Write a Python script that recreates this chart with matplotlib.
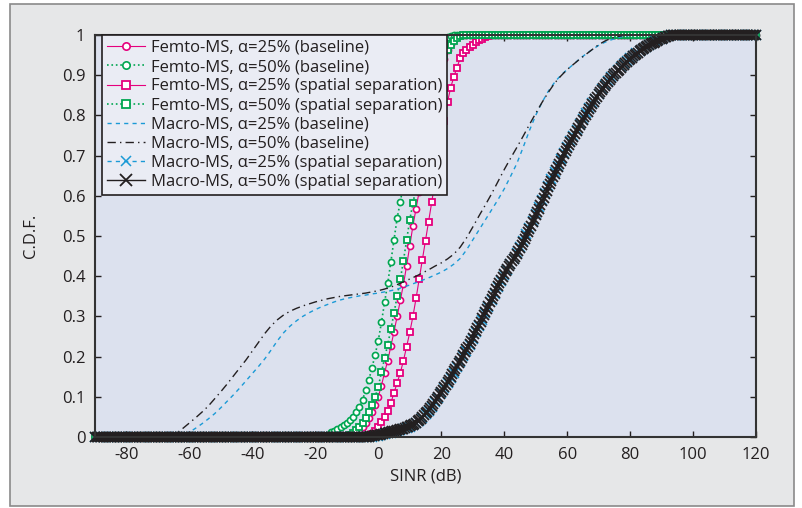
import numpy as np
import matplotlib
matplotlib.use('Agg')
import matplotlib.pyplot as plt
from matplotlib.patches import Rectangle

plt.rcParams['font.family'] = ['Open Sans', 'DejaVu Sans']
plt.rcParams['axes.unicode_minus'] = False

# SINR grids of the plotted samples (dB)
sinr = np.arange(-90, 121, 1)
sinr_fine = np.arange(-90, 120.5, 0.5)
sinr_coarse = np.arange(-90, 121, 2)

# Femto-MS, alpha=25% (baseline): values from -9 dB on
f25_base_start = -9
f25_base = [0.002, 0.006, 0.011, 0.017, 0.025, 0.035, 0.047, 0.062, 0.08, 0.1,
            0.128, 0.16, 0.19, 0.226, 0.262, 0.3, 0.34, 0.38, 0.426, 0.475,
            0.525, 0.568, 0.61, 0.655, 0.7, 0.745, 0.79, 0.835, 0.875, 0.91,
            0.94, 0.962, 0.978, 0.99, 0.996]

# Femto-MS, alpha=50% (baseline): from -17 dB
f50_base_start = -17
f50_base = [0.002, 0.006, 0.012, 0.016, 0.02, 0.025, 0.03, 0.035, 0.042, 0.05,
            0.062, 0.075, 0.092, 0.117, 0.142, 0.172, 0.205, 0.24, 0.285, 0.335,
            0.382, 0.436, 0.49, 0.545, 0.585, 0.63, 0.675, 0.72, 0.76, 0.8,
            0.835, 0.87, 0.9, 0.925, 0.945, 0.962, 0.975, 0.985, 0.99, 0.994,
            0.997]

# Femto-MS, alpha=25% (spatial separation): from -3 dB
f25_sep_start = -3
f25_sep = [0.003, 0.008, 0.015, 0.025, 0.037, 0.05, 0.065, 0.085, 0.11, 0.135,
           0.16, 0.19, 0.225, 0.26, 0.3, 0.345, 0.393, 0.44, 0.488, 0.536,
           0.585, 0.635, 0.685, 0.735, 0.785, 0.834, 0.869, 0.896, 0.919, 0.942,
           0.954, 0.963, 0.97, 0.976, 0.982, 0.987, 0.991, 0.994, 0.997]

# Femto-MS, alpha=50% (spatial separation): from -10 dB
f50_sep_start = -10
f50_sep = [0.002, 0.006, 0.011, 0.018, 0.026, 0.036, 0.048, 0.062, 0.08, 0.1,
           0.125, 0.161, 0.196, 0.23, 0.268, 0.308, 0.351, 0.392, 0.439, 0.49,
           0.54, 0.581, 0.62, 0.66, 0.7, 0.74, 0.78, 0.82, 0.86, 0.895,
           0.925, 0.948, 0.962, 0.975, 0.985, 0.992, 0.997]

# Macro-MS, alpha=25% (baseline), 2 dB steps from -60 dB
m25_base_start = -60
m25_base = [0.012, 0.022, 0.033, 0.045, 0.058, 0.073, 0.089, 0.105, 0.122, 0.14,
            0.158, 0.176, 0.195, 0.217, 0.24, 0.26, 0.276, 0.289, 0.3, 0.309,
            0.317, 0.324, 0.33, 0.336, 0.341, 0.345, 0.348, 0.351, 0.353, 0.356,
            0.358, 0.361, 0.364, 0.368, 0.373, 0.378, 0.384, 0.39, 0.396, 0.403,
            0.41, 0.419, 0.43, 0.444, 0.465, 0.49, 0.515, 0.54, 0.565, 0.59,
            0.617, 0.648, 0.68, 0.72, 0.762, 0.8, 0.832, 0.86, 0.882, 0.9,
            0.914, 0.927, 0.941, 0.953, 0.964, 0.974, 0.982, 0.988, 0.993, 0.997,
            0.999]

# Macro-MS, alpha=50% (baseline), 2 dB steps from -64 dB
m50_base_start = -64
m50_base = [0.01, 0.022, 0.035, 0.048, 0.062, 0.077, 0.095, 0.113, 0.132, 0.152,
            0.172, 0.192, 0.214, 0.236, 0.258, 0.277, 0.292, 0.304, 0.313, 0.32,
            0.326, 0.331, 0.336, 0.34, 0.344, 0.347, 0.35, 0.352, 0.354, 0.356,
            0.358, 0.361, 0.364, 0.368, 0.373, 0.379, 0.386, 0.393, 0.4, 0.408,
            0.416, 0.425, 0.433, 0.443, 0.455, 0.472, 0.495, 0.522, 0.55, 0.577,
            0.605, 0.635, 0.665, 0.693, 0.72, 0.748, 0.777, 0.805, 0.832, 0.857,
            0.88, 0.898, 0.914, 0.927, 0.94, 0.952, 0.964, 0.976, 0.985, 0.992,
            0.996, 0.999]

# Macro-MS, alpha=25% (spatial separation): 1 dB steps from -2 dB
m25_sep_start = -2
m25_sep = [0.001, 0.002, 0.003, 0.005, 0.007, 0.009, 0.011, 0.013, 0.015, 0.017,
           0.019, 0.022, 0.025, 0.029, 0.034, 0.04, 0.047, 0.056, 0.065, 0.075,
           0.086, 0.097, 0.109, 0.121, 0.134, 0.147, 0.16, 0.173, 0.187, 0.201,
           0.215, 0.229, 0.244, 0.26, 0.276, 0.292, 0.308, 0.324, 0.34, 0.356,
           0.372, 0.387, 0.402, 0.416, 0.43, 0.444, 0.458, 0.473, 0.488, 0.504,
           0.52, 0.537, 0.554, 0.571, 0.589, 0.607, 0.624, 0.641, 0.658, 0.675,
           0.691, 0.707, 0.722, 0.736, 0.75, 0.764, 0.778, 0.792, 0.805, 0.818,
           0.83, 0.842, 0.854, 0.865, 0.876, 0.886, 0.895, 0.904, 0.912, 0.92,
           0.928, 0.935, 0.942, 0.948, 0.954, 0.96, 0.965, 0.97, 0.975, 0.98,
           0.984, 0.988, 0.991, 0.994, 0.997]

# Macro-MS, alpha=50% (spatial separation): 0.5 dB steps from -3 dB
m50_sep_start = -3
m50_sep = [0.001, 0.0015, 0.002, 0.003, 0.004, 0.0045, 0.005, 0.006, 0.007, 0.008,
           0.009, 0.01, 0.011, 0.012, 0.013, 0.014, 0.015, 0.016, 0.017, 0.018,
           0.019, 0.02, 0.021, 0.0225, 0.024, 0.0255, 0.027, 0.029, 0.031, 0.0335,
           0.036, 0.039, 0.042, 0.046, 0.05, 0.054, 0.059, 0.063, 0.068, 0.073,
           0.078, 0.083, 0.089, 0.094, 0.1, 0.106, 0.112, 0.118, 0.124, 0.13,
           0.137, 0.143, 0.15, 0.156, 0.163, 0.17, 0.177, 0.183, 0.19, 0.197,
           0.204, 0.211, 0.218, 0.225, 0.232, 0.24, 0.247, 0.255, 0.263, 0.271,
           0.279, 0.287, 0.295, 0.303, 0.311, 0.319, 0.327, 0.335, 0.343, 0.351,
           0.359, 0.367, 0.375, 0.382, 0.39, 0.397, 0.405, 0.412, 0.419, 0.425,
           0.431, 0.437, 0.443, 0.449, 0.456, 0.463, 0.47, 0.477, 0.485, 0.493,
           0.501, 0.509, 0.517, 0.525, 0.534, 0.542, 0.551, 0.559, 0.568, 0.577,
           0.586, 0.595, 0.604, 0.613, 0.621, 0.63, 0.638, 0.647, 0.655, 0.663,
           0.671, 0.679, 0.687, 0.695, 0.703, 0.711, 0.718, 0.726, 0.733, 0.74,
           0.747, 0.754, 0.761, 0.768, 0.775, 0.782, 0.789, 0.796, 0.802, 0.809,
           0.815, 0.822, 0.828, 0.834, 0.84, 0.846, 0.852, 0.858, 0.863, 0.869,
           0.874, 0.879, 0.884, 0.889, 0.893, 0.898, 0.902, 0.906, 0.91, 0.914,
           0.918, 0.922, 0.926, 0.93, 0.933, 0.937, 0.94, 0.944, 0.947, 0.95,
           0.953, 0.956, 0.959, 0.962, 0.964, 0.967, 0.969, 0.972, 0.974, 0.977,
           0.979, 0.981, 0.983, 0.985, 0.987, 0.989, 0.991, 0.993, 0.994, 0.996,
           0.997, 0.998]


def full_cdf(x, start, vals, step=1):
    # zeros before the first read value, ones after the last one
    n0 = int(round((start - x[0]) / step))
    n1 = len(x) - n0 - len(vals)
    return np.concatenate([np.zeros(n0), vals, np.ones(n1)])


PINK = '#e5007d'
GREEN = '#00a651'
BLUE = '#1b9ad6'
BLACK = '#231f20'

fig = plt.figure(figsize=(8.03, 5.08), dpi=100)
fig.patch.set_facecolor('white')
fig.patches.append(Rectangle((10 / 803, 2 / 508), 784 / 803, 502 / 508,
                             transform=fig.transFigure, facecolor='#e6e7e8',
                             edgecolor='#8a8a8a', lw=1.2, zorder=-10))

ax = fig.add_axes([95 / 803, 1 - 437 / 508, 661 / 803, 402 / 508])
ax.set_facecolor('#dce1ee')

ms = 4.4
ax.plot(sinr, full_cdf(sinr, f25_base_start, f25_base), '-', color=PINK, lw=0.8,
        marker='o', ms=ms, mfc='white', mec=PINK, mew=1.2, clip_on=False,
        label='Femto-MS, α=25% (baseline)')
ax.plot(sinr, full_cdf(sinr, f50_base_start, f50_base), ':', color=GREEN, lw=1.2,
        marker='o', ms=ms, mfc='white', mec=GREEN, mew=1.2, clip_on=False,
        label='Femto-MS, α=50% (baseline)')
ax.plot(sinr, full_cdf(sinr, f25_sep_start, f25_sep), '-', color=PINK, lw=0.8,
        marker='s', ms=ms, mfc='white', mec=PINK, mew=1.3, clip_on=False,
        label='Femto-MS, α=25% (spatial separation)')
ax.plot(sinr, full_cdf(sinr, f50_sep_start, f50_sep), ':', color=GREEN, lw=1.2,
        marker='s', ms=ms, mfc='white', mec=GREEN, mew=1.3, clip_on=False,
        label='Femto-MS, α=50% (spatial separation)')
ax.plot(sinr_coarse, full_cdf(sinr_coarse, m25_base_start, m25_base, 2),
        color=BLUE, lw=1.0, dashes=(3, 3),
        label='Macro-MS, α=25% (baseline)')
ax.plot(sinr_coarse, full_cdf(sinr_coarse, m50_base_start, m50_base, 2),
        color=BLACK, lw=1.0, dashes=(6, 3, 1, 3),
        label='Macro-MS, α=50% (baseline)')
ax.plot(sinr, full_cdf(sinr, m25_sep_start, m25_sep), color=BLUE, lw=1.0,
        dashes=(3, 3), marker='x', ms=6.5, mew=1.1, mec=BLUE, clip_on=False,
        label='Macro-MS, α=25% (spatial separation)')
ax.plot(sinr_fine, full_cdf(sinr_fine, m50_sep_start, m50_sep, 0.5), '-',
        color=BLACK, lw=1.0, marker='x', ms=7, mew=1.3, mec=BLACK,
        clip_on=False, label='Macro-MS, α=50% (spatial separation)')

ax.set_xlim(-90, 120)
ax.set_ylim(0, 1)
ax.set_xticks(np.arange(-80, 121, 20))
ax.set_yticks(np.arange(0, 1.01, 0.1))
ax.set_yticklabels(['0', '0.1', '0.2', '0.3', '0.4', '0.5', '0.6', '0.7', '0.8',
                    '0.9', '1'])
ax.tick_params(direction='in', top=True, right=True, length=4, width=1,
               labelsize=12, colors='#231f20', pad=7)
for sp in ax.spines.values():
    sp.set_color('#333333')
    sp.set_linewidth(1.5)

ax.set_xlabel('SINR (dB)', fontsize=12, color='#231f20', labelpad=4)
ax.set_ylabel('C.D.F.', fontsize=12, color='#231f20', labelpad=16)

leg = ax.legend(loc='upper left', bbox_to_anchor=(0.01, 1.0), borderaxespad=0,
                fontsize=12, handlelength=2.3, handletextpad=0.35,
                labelspacing=0.19, borderpad=0.3, fancybox=False,
                markerscale=1.2, framealpha=1, facecolor='#eaecf4',
                edgecolor='#231f20')
leg.get_frame().set_linewidth(1.2)
leg.set_zorder(5)
for t in leg.get_texts():
    t.set_color('#231f20')

fig.savefig('out.png', dpi=100)
